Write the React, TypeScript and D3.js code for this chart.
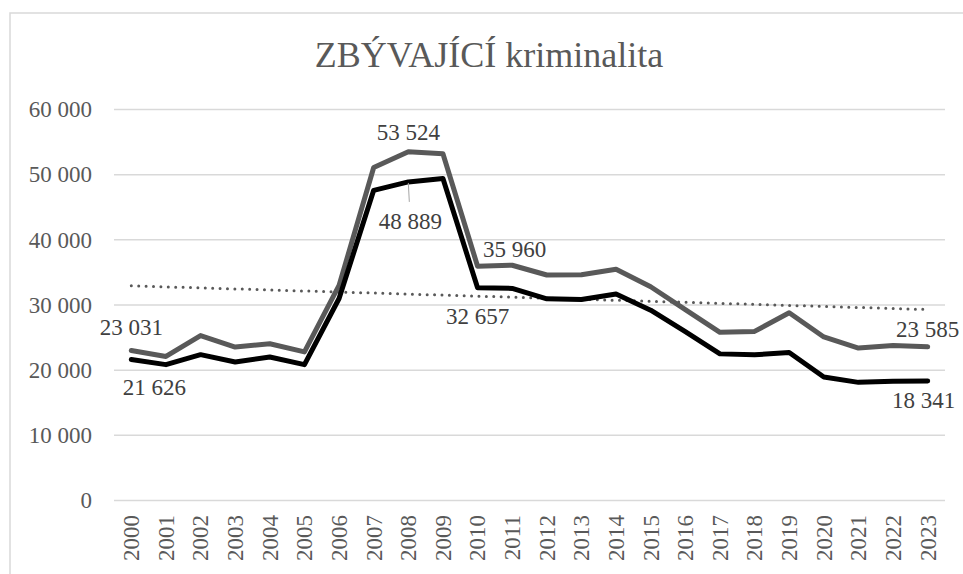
import React from "react";
import * as d3 from "d3";

const years = ["2000","2001","2002","2003","2004","2005","2006","2007","2008","2009","2010","2011","2012","2013","2014","2015","2016","2017","2018","2019","2020","2021","2022","2023"];
const graySeries = [23031,22100,25300,23550,24050,22800,33000,51100,53524,53200,35960,36100,34600,34650,35500,32800,29300,25800,25950,28800,25100,23400,23800,23585];
const blackSeries = [21626,20850,22380,21260,22030,20850,31000,47600,48889,49400,32657,32550,30950,30850,31700,29200,25900,22500,22350,22700,18950,18130,18300,18341];
const yTicks = [0,10000,20000,30000,40000,50000,60000];
const titleText = "ZBÝVAJÍCÍ kriminalita";

// label annotations: which series / index, with offset styling
const labels = [
  { s: "gray", i: 0, dx: 0, dy: -23 },
  { s: "black", i: 0, dx: 23, dy: 28 },
  { s: "gray", i: 8, dx: 0, dy: -20 },
  { s: "black", i: 8, dx: 2, dy: 39, leader: true },
  { s: "gray", i: 10, dx: 37, dy: -17 },
  { s: "black", i: 10, dx: 0, dy: 28 },
  { s: "gray", i: 23, dx: 0, dy: -18 },
  { s: "black", i: 23, dx: -4, dy: 19 },
];

const W = 963, H = 574;
const FF = '"Liberation Serif"';
const fmt = (v: number) => {
  const s = Math.round(v).toString();
  return s.replace(/\B(?=(\d{3})+(?!\d))/g, " ");
};

export default function App() {
  const x = d3.scalePoint<string>().domain(years).range([114, 945]).padding(0.5);
  const y = d3.scaleLinear().domain([0, 60000]).range([500.5, 109.5]);

  const line = d3.line<number>()
    .x((_, i) => x(years[i]) as number)
    .y((d) => y(d));

  // linear trend of gray series
  const n = graySeries.length;
  const mx = (n - 1) / 2;
  const my = d3.mean(graySeries) as number;
  let num = 0, den = 0;
  graySeries.forEach((v, i) => { num += (i - mx) * (v - my); den += (i - mx) * (i - mx); });
  const slope = num / den;
  const trend = [my - slope * mx, my + slope * (n - 1 - mx)];
  const x0 = x(years[0]) as number, x1 = x(years[n - 1]) as number;

  const series: Record<string, number[]> = { gray: graySeries, black: blackSeries };
  const T = (p: any) => <text {...p} style={{ fontFamily: FF }} />;

  return (
    <div style={{ position: "absolute", left: 0, top: 0, fontFamily: FF }}>
      <svg width={W} height={H} style={{ display: "block", background: "#fff", fontFamily: FF }}>
        <style>{`text { font-family: "Liberation Serif"; }`}</style>
        <rect x={10} y={13} width={W} height={H} fill="#fff" stroke="#d9d9d9" strokeWidth={1.5} />
        <T x={489} y={67} textAnchor="middle" fontSize={36} fill="#595959">{titleText}</T>
        {yTicks.map((t) => (
          <g key={t}>
            <line x1={114} x2={945} y1={y(t)} y2={y(t)} stroke="#d9d9d9" strokeWidth={1.5} />
            <T x={92} y={y(t)} dy="0.34em" textAnchor="end" fontSize={23} fill="#595959">{fmt(t)}</T>
          </g>
        ))}
        {years.map((yr) => (
          <T key={yr} transform={`translate(${x(yr)},515) rotate(-90)`} dy="0.34em" textAnchor="end" fontSize={23} fill="#595959">{yr}</T>
        ))}
        <line x1={x0} x2={x1} y1={y(trend[0])} y2={y(trend[1])} stroke="#595959" strokeWidth={3} strokeLinecap="round" strokeDasharray="0 7.4" />
        <path d={line(graySeries) as string} fill="none" stroke="#595959" strokeWidth={5} strokeLinejoin="round" strokeLinecap="round" />
        <path d={line(blackSeries) as string} fill="none" stroke="#000" strokeWidth={5} strokeLinejoin="round" strokeLinecap="round" />
        {labels.map((l, k) => {
          const v = series[l.s][l.i];
          const px = x(years[l.i]) as number;
          const py = y(v);
          return (
            <g key={k}>
              {l.leader && (
                <line x1={px} y1={py + 1} x2={px + 1} y2={py + l.dy - 19} stroke="#a6a6a6" strokeWidth={1} />
              )}
              <T x={px + l.dx} y={py + l.dy} dy="0.34em" textAnchor="middle" fontSize={23} fill="#404040">{fmt(v)}</T>
            </g>
          );
        })}
      </svg>
    </div>
  );
}
